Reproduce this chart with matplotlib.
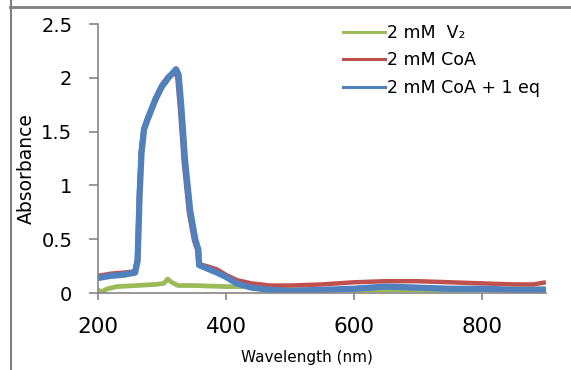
import matplotlib
matplotlib.use("Agg")
import matplotlib.pyplot as plt
from matplotlib.lines import Line2D

plt.rcParams['font.family'] = ['DejaVu Sans']

# UV-vis spectra
wl_v2 = [200, 205, 215, 230, 260, 290, 303, 309, 315, 325, 350, 400, 430,
         460, 500, 600, 700, 800, 900]
abs_v2 = [0.03, 0.01, 0.04, 0.06, 0.07, 0.08, 0.09, 0.13, 0.10, 0.07, 0.07,
          0.06, 0.06, 0.04, 0.03, 0.03, 0.03, 0.03, 0.04]

wl_coa = [200, 220, 240, 257, 261, 264, 267, 271, 277, 289, 299, 309, 320,
          324, 328, 334, 342, 350, 355, 357, 370, 386, 400, 417, 440, 469,
          500, 550, 600, 650, 700, 750, 800, 850, 880, 900]
abs_coa = [0.16, 0.18, 0.19, 0.20, 0.32, 0.92, 1.32, 1.53, 1.63, 1.81, 1.93,
           2.01, 2.06, 2.00, 1.72, 1.22, 0.75, 0.49, 0.40, 0.27, 0.25, 0.22,
           0.17, 0.12, 0.09, 0.07, 0.07, 0.08, 0.10, 0.11, 0.11, 0.10, 0.09,
           0.08, 0.08, 0.10]

wl_coa_eq = [200, 220, 240, 258, 262, 265, 268, 272, 278, 290, 300, 310, 322,
             326, 330, 336, 344, 352, 357, 358, 370, 386, 400, 417, 440, 469,
             500, 550, 600, 650, 700, 750, 800, 850, 880, 900]
abs_coa_eq = [0.14, 0.16, 0.17, 0.19, 0.30, 0.90, 1.30, 1.52, 1.62, 1.80,
              1.92, 2.00, 2.08, 2.03, 1.75, 1.24, 0.77, 0.50, 0.40, 0.26,
              0.23, 0.19, 0.15, 0.09, 0.05, 0.03, 0.02, 0.03, 0.04, 0.06,
              0.05, 0.04, 0.04, 0.03, 0.03, 0.03]

labels = ['2 mM  V\u2082', '2 mM CoA', '2 mM CoA + 1 eq']
colors = ['#9BBB59', '#C0504D', '#4F81BD']

fig = plt.figure(figsize=(5.71, 3.70), dpi=100)
ax = fig.add_axes([0.1716, 0.208, 0.7844, 0.727])

ax.plot(wl_v2, abs_v2, color=colors[0], lw=3.4, solid_capstyle='butt')
ax.plot(wl_coa, abs_coa, color=colors[1], lw=3.2, solid_capstyle='butt')
ax.plot(wl_coa_eq, abs_coa_eq, color=colors[2], lw=4.5, solid_capstyle='butt')

ax.set_xlim(200, 900)
ax.set_ylim(0, 2.5)
ax.set_xticks([200, 400, 600, 800])
ax.set_yticks([0, 0.5, 1, 1.5, 2, 2.5])
ax.set_yticklabels(['0', '0.5', '1', '1.5', '2', '2.5'])

for s in ['top', 'right']:
    ax.spines[s].set_visible(False)
for s in ['left', 'bottom']:
    ax.spines[s].set_color('#868686')
    ax.spines[s].set_linewidth(1.2)
ax.tick_params(axis='both', colors='#868686', labelcolor='black', width=1.2)
ax.tick_params(axis='y', length=6.5, pad=12, labelsize=14)
ax.tick_params(axis='x', length=5, pad=12, labelsize=15.5)

ax.set_ylabel('Absorbance', fontsize=13.5, va='center')
ax.yaxis.set_label_coords(-0.161, 0.461)
ax.set_xlabel('Wavelength (nm)', fontsize=11, va='center')
ax.xaxis.set_label_coords(0.467, -0.238)

handles = [Line2D([], [], color=c, lw=2.2) for c in colors]
ax.legend(handles, labels, loc='upper left', bbox_to_anchor=(0.601, 0.936),
          bbox_transform=fig.transFigure, frameon=False, fontsize=12.5,
          handlelength=2.4, handletextpad=0.1, labelspacing=0.55,
          borderpad=0, borderaxespad=0)

# outer border fragments
fig.add_artist(Line2D([10 / 571, 1], [1 - 7 / 370, 1 - 7 / 370],
                      transform=fig.transFigure, color='#7f7f7f', lw=2))
fig.add_artist(Line2D([10.5 / 571, 10.5 / 571], [0, 1],
                      transform=fig.transFigure, color='#7f7f7f', lw=1.5))

fig.savefig('out.png', dpi=100)
